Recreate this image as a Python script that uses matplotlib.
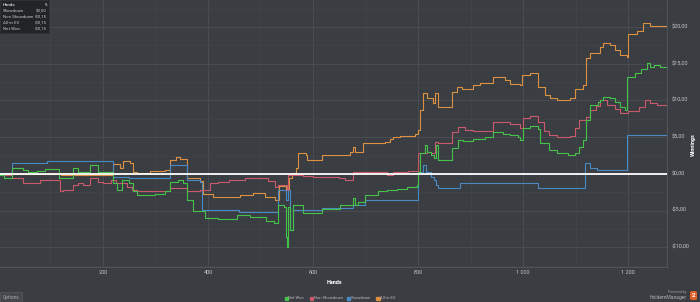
import matplotlib
matplotlib.use("Agg")
import matplotlib.pyplot as plt
from matplotlib.patches import Rectangle, FancyBboxPatch

plt.rcParams['font.family'] = ['Roboto', 'DejaVu Sans']

# step breakpoints (hand number, winnings in $)
net_won_hands = [4, 12, 27, 48, 57, 74, 90, 116, 143, 152, 175, 190, 219, 227, 236, 250, 257, 265, 300,
                 318, 328, 343, 352, 360, 371, 395, 420, 455, 480, 510, 525, 533, 545, 549, 550, 552, 556,
                 562, 580, 581, 617, 651, 676, 680, 686, 699, 724, 741, 760, 779, 798, 800, 804, 813, 817,
                 825, 831, 834, 838, 865, 876, 885, 905, 928, 943, 962, 975, 990, 994, 1000, 1014, 1029,
                 1033, 1050, 1065, 1085, 1099, 1107, 1114, 1120, 1128, 1143, 1147, 1152, 1166, 1175, 1185,
                 1194, 1198, 1213, 1225, 1236, 1242, 1250, 1261, 1274]
net_won = [-0.1, -0.5, 0.8, 0.5, 0.3, 0.4, 0.7, -0.5, 0.8, 0.3, 1.2, 0.2, -1.2, -2.2, -0.8, -1.2, -2.4, -2.9, -2.7,
           -2.4, -1.1, -0.8, -1.2, -3.5, -5.0, -6.0, -6.1, -5.6, -5.9, -6.4, -6.7, -4.2, -4.5, -8.6, -10.0, -4.5, -7.6,
           -4.2, -4.8, -5.3, -4.8, -4.2, -3.3, -4.2, -3.8, -2.9, -2.4, -2.2, -2.0, -1.8, -1.5, 0.3, 2.9, 4.0, 3.0,
           2.6, 2.2, 4.0, 1.9, 3.5, 4.6, 4.5, 4.8, 5.0, 5.7, 5.5, 5.3, 5.0, 4.6, 6.3, 6.5, 6.1,
           4.2, 3.3, 2.9, 2.6, 2.8, 3.7, 4.6, 7.4, 9.4, 9.8, 10.1, 10.5, 10.3, 9.8, 9.1,
           8.7, 13.2, 13.8, 14.3, 15.1, 14.6, 14.8, 14.5, 14.4]

non_sd_hands = [4, 27, 48, 80, 118, 124, 143, 152, 162, 175, 190, 200, 215, 225, 245, 255, 265, 300, 328, 360,
                385, 404, 420, 440, 470, 500, 515, 528, 533, 550, 552, 580, 600, 650, 660, 676, 700, 720, 740,
                752, 780, 800, 817, 825, 833, 838, 865, 876, 890, 905, 943, 975, 994, 1000, 1014, 1029, 1040,
                1050, 1065, 1090, 1099, 1107, 1120, 1128, 1138, 1147, 1160, 1175, 1185, 1200, 1220, 1232, 1242,
                1255, 1274]
non_sd = [-0.1, -0.5, -1.2, -0.8, -2.4, -2.2, -1.5, -1.2, -1.5, -0.5, -1.1, -1.2, -0.8, -1.2, -1.8, -2.2, -2.4, -2.3, -1.9, -2.4,
          -2.2, -1.2, -1.1, -0.9, -0.6, -0.5, -1.0, -1.8, -1.5, -2.2, -0.1, -0.3, -0.4, -0.5, -0.8, 0.3, 0.2, 0.3, -0.1,
          0.3, 0.4, 2.9, 3.0, 2.8, 4.4, 4.2, 5.7, 6.4, 6.0, 5.8, 7.1, 6.8, 6.3, 7.6, 7.9, 7.1, 5.8,
          5.3, 5.0, 5.1, 6.3, 7.4, 7.8, 8.7, 9.2, 10.1, 9.4, 8.9, 8.3, 8.6, 9.1, 10.1, 9.6,
          9.4, 9.4]

sd_hands = [4, 27, 93, 219, 250, 328, 360, 385, 389, 420, 460, 533, 549, 552, 556, 562, 617, 676, 699, 790,
            800, 810, 815, 825, 831, 834, 838, 880, 1029, 1118, 1128, 1140, 1198, 1274]
sd = [0.1, 1.5, 1.7, -0.4, -0.5, 1.2, -0.8, -1.1, -4.9, -4.9, -5.2, -2.2, -3.5, -2.2, -7.6, -4.9, -4.6, -4.2, -3.5, -3.5,
      0.3, 1.2, 0.3, -0.4, -0.8, -1.5, -1.9, -1.2, -1.9, 1.5, 0.8, 0.5, 5.3, 5.3]

ev_hands = [4, 120, 219, 232, 238, 251, 257, 265, 290, 318, 328, 339, 347, 360, 385, 390, 410, 461, 486, 509,
            528, 535, 549, 554, 560, 568, 571, 587, 589, 613, 617, 632, 671, 676, 680, 695, 737, 747, 752, 766,
            794, 800, 804, 810, 817, 829, 833, 838, 865, 874, 884, 905, 918, 943, 966, 975, 994, 998, 1014,
            1029, 1042, 1051, 1065, 1090, 1099, 1114, 1120, 1128, 1147, 1152, 1166, 1175, 1185, 1198, 1200,
            1217, 1229, 1242, 1274]
ev = [0.0, -0.1, 1.3, 0.8, 1.7, 1.5, 0.3, 0.1, 0.4, 0.5, 1.9, 2.3, 2.0, -0.5, -1.0, -2.8, -3.1, -2.9, -2.6, -3.2,
      -3.6, -1.7, -2.2, -0.6, 0.1, 0.8, 2.9, 2.6, 1.9, 1.9, 2.6, 2.6, 3.0, 3.6, 3.0, 4.2, 4.4, 4.7, 5.0, 5.2,
      5.4, 6.0, 8.7, 11.0, 10.4, 9.6, 11.0, 9.1, 11.2, 11.9, 11.6, 12.1, 12.4, 13.2, 12.8, 12.3, 12.1, 13.5, 13.8,
      11.9, 10.8, 10.4, 10.1, 10.4, 11.5, 12.1, 15.8, 16.5, 17.3, 17.9, 17.5, 16.9, 16.2, 15.9, 19.0,
      19.5, 20.5, 20.1, 19.9]

y_ticks = [-10, -5, 0, 5, 10, 15, 20]
y_labels = ["-$10,00", "-$5,00", "$0,00", "$5,00", "$10,00", "$15,00", "$20,00"]
x_ticks = [200, 400, 600, 800, 1000, 1200]
x_labels = ["200", "400", "600", "800", "1 000", "1 200"]

bg = "#3a3d42"
fig = plt.figure(figsize=(7, 3.02), dpi=100, facecolor=bg)
ax = fig.add_axes([0, 1 - 267 / 302, 667 / 700, 267 / 302])
ax.set_facecolor(bg)

c_green, c_red, c_blue, c_orange = "#45c24a", "#c95a6c", "#4a8ac4", "#dc9142"
ax.step(ev_hands, ev, where="post", color=c_orange, lw=0.8, zorder=3)
ax.step(sd_hands, sd, where="post", color=c_blue, lw=0.8, zorder=3)
ax.step(non_sd_hands, non_sd, where="post", color=c_red, lw=0.8, zorder=4)
ax.step(net_won_hands, net_won, where="post", color=c_green, lw=0.8, zorder=5)
ax.axhline(0, color="white", lw=1.3, zorder=6)

ax.set_xlim(4, 1274)
ax.set_ylim(-12.7, 23.7)
ax.set_xticks(x_ticks)
ax.set_yticks(y_ticks)
ax.set_yticks([-12.5, -7.5, -2.5, 2.5, 7.5, 12.5, 17.5, 22.5], minor=True)
ax.set_xticks([100, 300, 500, 700, 900, 1100], minor=True)
ax.grid(True, which="major", color="#4b4e54", lw=0.6)
ax.grid(True, which="minor", color="#42454a", lw=0.5)
ax.tick_params(which="both", length=0, labelleft=False, labelbottom=False)
for s in ["left", "top"]:
    ax.spines[s].set_visible(False)
for s in ["right", "bottom"]:
    ax.spines[s].set_color("#55585e")
    ax.spines[s].set_linewidth(0.6)

def px(x, y):
    return x / 700, 1 - y / 302

for v, lab in zip(y_ticks, y_labels):
    yy = 173.7 - v * 7.333
    fig.text(*px(672, yy), lab, color="#c8c8c8", fontsize=4, va="center", ha="left")
for v, lab in zip(x_ticks, x_labels):
    xx = (v - 4) * 667 / 1270
    fig.text(*px(xx, 273), lab, color="#c8c8c8", fontsize=4, va="center", ha="center")
fig.text(*px(334, 283), "Hands", color="white", fontsize=4, va="center", ha="center", fontweight="bold")
fig.text(*px(693, 145), "Winnings", color="white", fontsize=4, va="center", ha="center",
         rotation=90, fontweight="bold")

# legend
leg = [("Net Won", c_green, 286), ("Non Showdown", c_red, 311), ("Showdown", c_blue, 348), ("All-in EV", c_orange, 378)]
for name, col, x0 in leg:
    fig.patches.append(Rectangle(px(x0 - 1.5, 298 + 1.5), 3 / 700, 3 / 302, transform=fig.transFigure,
                                 color=col))
    fig.text(*px(x0 + 2.5, 298), name, color="#b8b8b8", fontsize=3.0, va="center", ha="left")

# options button
fig.patches.append(Rectangle(px(0, 302), 22 / 700, 10 / 302, transform=fig.transFigure,
                             facecolor="#44474c", edgecolor="#55585e", lw=0.5))
fig.text(*px(11, 297), "Options", color="#aaaaaa", fontsize=3.4, va="center", ha="center")

# powered by
fig.text(*px(686, 292), "Powered by", color="#9a9a9a", fontsize=2.5, va="center", ha="right")
fig.text(*px(687, 297.5), "HoldemManager", color="#b0b0b0", fontsize=3.6, va="center", ha="right")
fig.patches.append(FancyBboxPatch(px(690, 300), 7 / 700, 9 / 302, boxstyle="round,pad=0,rounding_size=0.004",
                                  transform=fig.transFigure, facecolor="#e0602a", edgecolor="none"))
fig.text(*px(693.5, 295.5), "2", color="white", fontsize=4.5, va="center", ha="center", fontweight="bold")

# tooltip
fig.patches.append(Rectangle(px(0, 33), 49 / 700, 33 / 302, transform=fig.transFigure,
                             facecolor="#222427", edgecolor="#2e3034", lw=0.5, zorder=10))
rows = [("Hands", "5"), ("Showdown", "$0,00"), ("Non Showdown", "-$0,15"), ("All-in EV", "-$0,15"), ("Net Won", "-$0,15")]
for i, (k, v) in enumerate(rows):
    yy = 5 + i * 6
    col = "white" if i == 0 else "#c8c8c8"
    fig.text(*px(3, yy), k, color=col, fontsize=3.2, va="center", ha="left", zorder=11)
    fig.text(*px(47, yy), v, color=col, fontsize=3.2, va="center", ha="right", zorder=11)

fig.savefig("out.png", dpi=100, facecolor=bg)
